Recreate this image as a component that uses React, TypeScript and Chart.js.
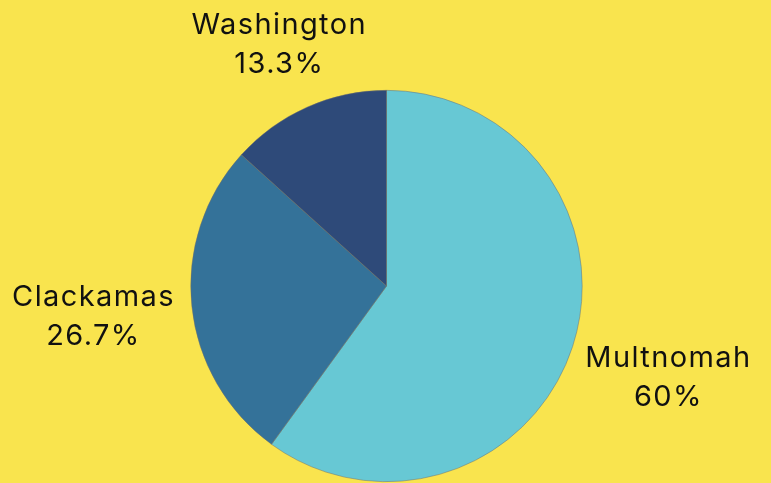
import React, { useEffect, useRef } from "react";
import { Chart, registerables } from "chart.js";

Chart.register(...registerables);

const categories = ["Multnomah", "Clackamas", "Washington"];
const shares = [60, 26.7, 13.3];
const shareLabels = ["60%", "26.7%", "13.3%"];
const sliceColors = ["#67C8D4", "#347299", "#2E4A79"];
const BG = "#F9E44E";

const labelPlugin = {
  id: "outerLabels",
  afterDatasetsDraw(chart: any) {
    const ctx = chart.ctx;
    const meta = chart.getDatasetMeta(0);
    const fontSize = 29;
    const lineGap = 39;
    ctx.save();
    ctx.font = `${fontSize}px Inter, "Noto Sans", sans-serif`;
    try { (ctx as any).letterSpacing = "1.4px"; } catch (e) {}
    ctx.fillStyle = "#111";
    ctx.textAlign = "center";
    ctx.textBaseline = "middle";
    meta.data.forEach((arc: any, i: number) => {
      const p = arc.getProps(["x", "y", "startAngle", "endAngle", "outerRadius"], true);
      const mid = (p.startAngle + p.endAngle) / 2;
      const ux = Math.cos(mid);
      const uy = Math.sin(mid);
      const lines = [categories[i], shareLabels[i]];
      const w = Math.max(...lines.map((l) => ctx.measureText(l).width));
      const h = 37;
      const off = 16;
      const d = p.outerRadius + off + Math.abs(ux) * w / 2 + Math.abs(uy) * h / 2;
      const cx = p.x + ux * d;
      const cy = p.y + uy * d;
      ctx.fillText(lines[0], cx, cy - lineGap / 2);
      ctx.fillText(lines[1], cx, cy + lineGap / 2);
    });
    ctx.restore();
  },
};

export default function App() {
  const ref = useRef<HTMLCanvasElement>(null);
  useEffect(() => {
    document.body.style.margin = "0";
    document.body.style.background = BG;
    const chart = new Chart(ref.current!, {
      type: "pie",
      data: {
        labels: categories,
        datasets: [
          {
            data: shares,
            backgroundColor: sliceColors,
            borderColor: "rgba(110,110,110,0.8)",
            borderWidth: 0.6,
          },
        ],
      },
      options: {
        responsive: false,
        animation: false,
        layout: { padding: { top: 90, bottom: 1, left: 190, right: 188 } },
        plugins: {
          legend: { display: false },
          tooltip: { enabled: false },
        },
      },
      plugins: [labelPlugin],
    });
    return () => chart.destroy();
  }, []);
  return (
    <div style={{ width: 771, height: 483, background: BG }}>
      <canvas ref={ref} width={771} height={483} style={{ display: "block" }} />
    </div>
  );
}
